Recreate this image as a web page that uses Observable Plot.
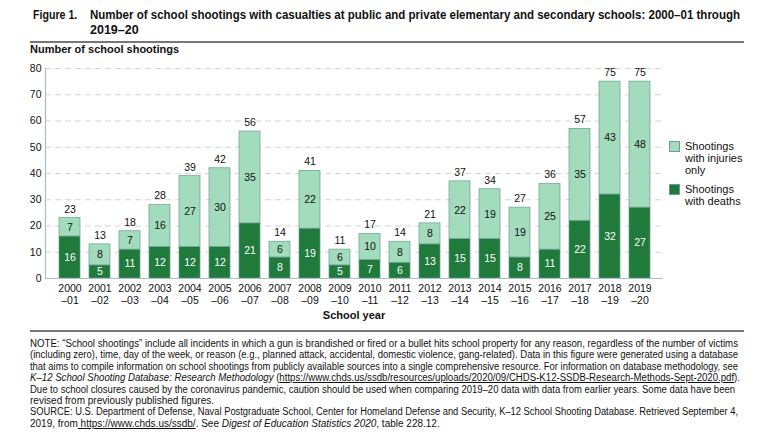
<!DOCTYPE html>
<html>
<head>
<meta charset="utf-8">
<script src="https://cdn.jsdelivr.net/npm/d3@7"></script>
<script src="https://cdn.jsdelivr.net/npm/@observablehq/plot@0.6"></script>
<style>
  html, body { margin: 0; padding: 0; background: #fff; }
  #wrap { position: relative; width: 768px; height: 435px; overflow: hidden; font-family: "Liberation Sans", Arial, sans-serif; color: #111; }
  .abs { position: absolute; }
  .fit { white-space: nowrap; }
  .fit > span { display: inline-block; transform-origin: 0 0; }
  #fig { left: 33px; top: 8px; font-weight: bold; font-size: 12.5px; line-height: 15px; }
  #fig > span { display: inline-block; transform: scaleX(0.85); transform-origin: 0 0; }
  #title { left: 90px; top: 8px; font-weight: bold; font-size: 12.5px; line-height: 15px; }
  .hr { position: absolute; left: 30px; width: 714px; height: 2px; background: #777; }
  #ylab { left: 30px; top: 43px; font-weight: bold; font-size: 11px; }
  #xlab { left: 304px; width: 100px; text-align: center; top: 309px; font-weight: bold; font-size: 11px; }
  #chart { left: 0; top: 0; }
  .legend { position: absolute; left: 669px; font-size: 11px; line-height: 12px; display: flex; gap: 5px; }
  .sw { width: 11px; height: 11px; border: 0.7px solid #6a9e92; box-sizing: border-box; margin-top: 1px; flex: none; }
  #note { left: 30px; top: 338px; font-size: 10px; line-height: 11.4px; }
  #note u { text-decoration: underline; }
</style>
</head>
<body>
<div id="wrap">
  <div id="chart" class="abs"></div>
  <div id="fig" class="abs"><span>Figure 1.</span></div>
  <div id="title" class="abs">
    <div class="fit" data-w="650" data-full="1"><span>Number of school shootings with casualties at public and private elementary and secondary schools: 2000–01 through</span></div>
    <div class="fit"><span>2019–20</span></div>
  </div>
  <div class="hr" style="top:41px"></div>
  <div id="ylab" class="abs">Number of school shootings</div>
  <div id="xlab" class="abs">School year</div>
  <div class="legend" style="top:140px"><div class="sw" style="background:#a3dbbd"></div><div>Shootings<br>with injuries<br>only</div></div>
  <div class="legend" style="top:183px"><div class="sw" style="background:#1f7a3c"></div><div>Shootings<br>with deaths</div></div>
  <div class="hr" style="top:330px"></div>
  <div id="note" class="abs">
    <div class="fit" data-w="708" data-full="1"><span>NOTE: “School shootings” include all incidents in which a gun is brandished or fired or a bullet hits school property for any reason, regardless of the number of victims</span></div>
    <div class="fit" data-w="708" data-full="1"><span>(including zero), time, day of the week, or reason (e.g., planned attack, accidental, domestic violence, gang-related). Data in this figure were generated using a database</span></div>
    <div class="fit" data-w="708" data-full="1"><span>that aims to compile information on school shootings from publicly available sources into a single comprehensive resource. For information on database methodology, see</span></div>
    <div class="fit" data-w="710" data-full="1"><span><i>K–12 School Shooting Database: Research Methodology</i> (<u>https://www.chds.us/ssdb/resources/uploads/2020/09/CHDS-K12-SSDB-Research-Methods-Sept-2020.pdf</u>).</span></div>
    <div class="fit" data-w="705" data-full="1"><span>Due to school closures caused by the coronavirus pandemic, caution should be used when comparing 2019–20 data with data from earlier years. Some data have been</span></div>
    <div class="fit" data-w="708"><span>revised from previously published figures.</span></div>
    <div class="fit" data-w="708" data-full="1"><span>SOURCE: U.S. Department of Defense, Naval Postgraduate School, Center for Homeland Defense and Security, K–12 School Shooting Database. Retrieved September 4,</span></div>
    <div class="fit" data-w="708"><span>2019, from<u> https://www.chds.us/ssdb/</u>. See <i>Digest of Education Statistics 2020</i>, table 228.12.</span></div>
  </div>
</div>
<script>
const years = ["2000–01","2001–02","2002–03","2003–04","2004–05","2005–06","2006–07","2007–08","2008–09","2009–10","2010–11","2011–12","2012–13","2013–14","2014–15","2015–16","2016–17","2017–18","2018–19","2019–20"];
const deaths   = [16, 5, 11, 12, 12, 12, 21, 8, 19, 5, 7, 6, 13, 15, 15, 8, 11, 22, 32, 27];
const injuries = [7, 8, 7, 16, 27, 30, 35, 6, 22, 6, 10, 8, 8, 22, 19, 19, 25, 35, 43, 48];
const totals   = [23, 13, 18, 28, 39, 42, 56, 14, 41, 11, 17, 14, 21, 37, 34, 27, 36, 57, 75, 75];
const seriesNames = ["deaths", "injuries"];
const yTicks = [0, 10, 20, 30, 40, 50, 60, 70, 80];

const rows = [];
years.forEach((yr, i) => {
  rows.push({year: yr, series: "deaths", value: deaths[i]});
  rows.push({year: yr, series: "injuries", value: injuries[i]});
});
const totalRows = years.map((yr, i) => ({year: yr, total: totals[i]}));

const font = '"Liberation Sans", Arial, sans-serif';
const chart = Plot.plot({
  width: 768,
  height: 320,
  marginLeft: 45,
  marginRight: 105,
  marginTop: 68,
  marginBottom: 42,
  style: {fontFamily: font, fontSize: "10.5px", color: "#111", background: "transparent", overflow: "visible"},
  x: {domain: years, paddingInner: 0.31, paddingOuter: 0.26, label: null},
  y: {domain: [0, 80], label: null},
  color: {domain: seriesNames, range: ["#1f7a3c", "#a3dbbd"]},
  marks: [
    Plot.gridY(yTicks.filter(t => t > 0), {stroke: "#d4d4d4", strokeOpacity: 1, strokeDasharray: "6,4"}),
    Plot.barY(rows, {x: "year", y: "value", fill: "series", order: seriesNames, stroke: "#6a9e92", strokeWidth: 0.7}),
    Plot.text(rows, Plot.stackY({x: "year", y: "value", z: "series", order: seriesNames, text: d => d.series === "deaths" ? String(d.value) : "", fill: "white"})),
    Plot.text(rows, Plot.stackY({x: "year", y: "value", z: "series", order: seriesNames, text: d => d.series === "injuries" ? String(d.value) : "", fill: "#111"})),
    Plot.text(totalRows, {x: "year", y: "total", text: "total", dy: -9, fill: "#111"}),
    Plot.ruleY([0], {stroke: "#a9c0c2", strokeWidth: 1.2}),
    Plot.frame({anchor: "left", stroke: "#a9c0c2", strokeWidth: 1.2}),
    Plot.axisY({ticks: yTicks, tickSize: 0, tickPadding: 4, fontSize: 10.5}),
    Plot.axisX({tickSize: 0, tickPadding: 5, fontSize: 10.5, lineHeight: 1.15, tickFormat: d => d.replace("–", "\n–")})
  ]
});
document.getElementById("chart").appendChild(chart);

// fit each text line of the title and note to the width it has in the figure
document.querySelectorAll(".fit").forEach(el => {
  const target = +el.dataset.w;
  if (!target) return;
  const span = el.firstElementChild;
  const w = span.getBoundingClientRect().width;
  if (w > target) {
    span.style.transform = `scaleX(${target / w})`;
  } else if (el.dataset.full) {
    const n = (span.textContent.match(/ /g) || []).length;
    if (n > 0) span.style.wordSpacing = ((target - w) / n) + "px";
  }
});
</script>
</body>
</html>
